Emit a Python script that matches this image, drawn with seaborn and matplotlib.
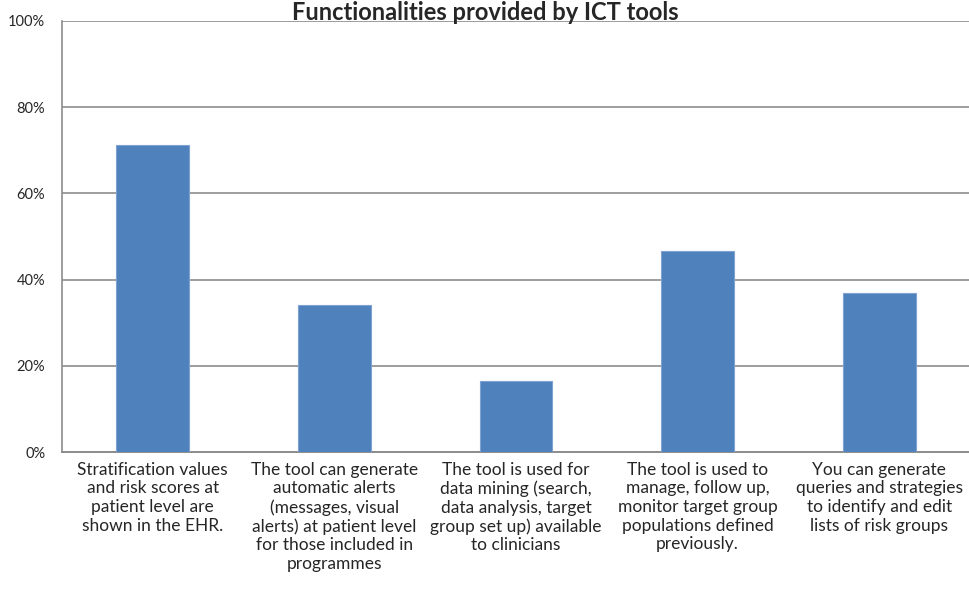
import matplotlib
matplotlib.use("Agg")
import matplotlib.pyplot as plt
import seaborn as sns
import pandas as pd

categories = [
    "Stratification values\nand risk scores at\npatient level are\nshown in the EHR.",
    "The tool can generate\nautomatic alerts\n(messages, visual\nalerts) at patient level\nfor those included in\nprogrammes",
    "The tool is used for\ndata mining (search,\ndata analysis, target\ngroup set up) available\nto clinicians",
    "The tool is used to\nmanage, follow up,\nmonitor target group\npopulations defined\npreviously.",
    "You can generate\nqueries and strategies\nto identify and edit\nlists of risk groups",
]
values = [71.2, 34.1, 16.5, 46.6, 36.8]
yticks = [0, 20, 40, 60, 80, 100]
ytick_labels = ["0%", "20%", "40%", "60%", "80%", "100%"]
title = "Functionalities provided by ICT tools"

sns.set_theme(style="white")
plt.rcParams["font.family"] = ["Lato", "DejaVu Sans"]

df = pd.DataFrame({"cat": categories, "val": values})

fig = plt.figure(figsize=(9.7, 5.99), dpi=100)
ax = fig.add_axes([62 / 970, 1 - 452 / 599, 908 / 970, 431 / 599])

sns.barplot(data=df, x="cat", y="val", ax=ax, color="#4F81BD", width=0.4,
            saturation=1, edgecolor="#7EA3D3", linewidth=0.8, zorder=3)

ax.set_ylim(0, 100)
ax.set_xlim(-0.5, len(categories) - 0.5)
ax.set_yticks(yticks)
ax.set_yticklabels(ytick_labels, fontsize=10.5)
ax.yaxis.grid(True, color="#8C8C8C", linewidth=1.2, zorder=0)
ax.set_axisbelow(True)
ax.tick_params(axis="y", length=0, pad=12)
ax.tick_params(axis="x", length=0, pad=7)
for lbl in ax.get_xticklabels():
    lbl.set_fontsize(12.5)
    lbl.set_linespacing(1.2)
    lbl.set_ha("center")
    lbl.set_va("top")
ax.set_xlabel("")
ax.set_ylabel("")

for s in ["top", "right"]:
    ax.spines[s].set_visible(False)
ax.spines["left"].set_color("#8C8C8C")
ax.spines["left"].set_linewidth(1.2)
ax.spines["bottom"].set_color("#8C8C8C")
ax.spines["bottom"].set_linewidth(1.4)

fig.text(0.5, 1 - 1 / 599, title, ha="center", va="top",
         fontsize=17, fontweight="bold")

fig.savefig("out.png", dpi=100)
